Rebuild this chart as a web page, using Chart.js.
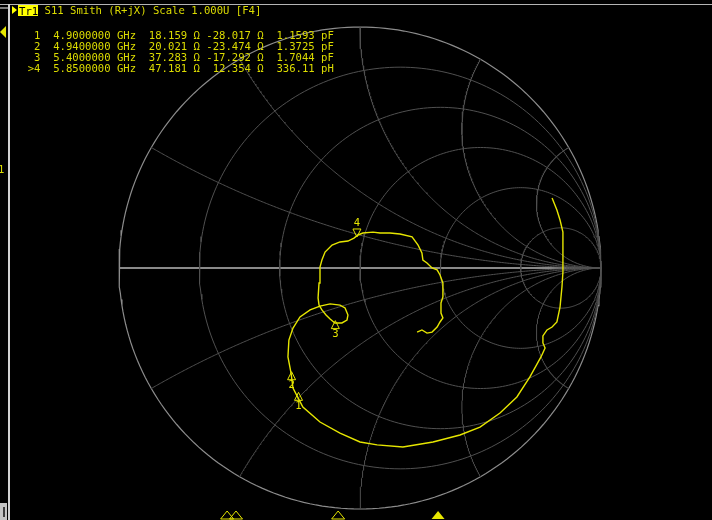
<!DOCTYPE html>
<html>
<head>
<meta charset="utf-8">
<script src="https://cdn.jsdelivr.net/npm/chart.js@4.4.1/dist/chart.umd.min.js"></script>
<style>
  html, body { margin: 0; padding: 0; background: #000; }
  #wrap { position: relative; width: 712px; height: 520px; overflow: hidden; background: #000; }
  #box { position: absolute; left: 0; top: 0; width: 712px; height: 520px; }
  .txt { position: absolute; font-family: "DejaVu Sans Mono", monospace; font-size: 10.6px;
         line-height: 10.8px; color: #dcdc00; white-space: pre; margin: 0; }
  #tr { position: absolute; left: 18px; top: 5px; width: 20px; height: 11px; background: #ffff00; }
  #tr span { position: absolute; left: 1px; top: 0; color: #000; }
  .deco { position: absolute; }
</style>
</head>
<body>
<div id="wrap">
  <div id="box"><canvas id="myChart"></canvas></div>

  <div class="deco" style="left:0;top:4px;width:712px;height:1px;background:#b4b4b4"></div>
  <div class="deco" style="left:0;top:7px;width:8px;height:2px;background:#7a7a7a"></div>
  <div class="deco" style="left:8px;top:4px;width:2px;height:516px;background:#d2d2d2"></div>
  <div class="deco" style="left:0;top:26px;width:0;height:0;border-top:6px solid transparent;border-bottom:6px solid transparent;border-right:6px solid #e6e600"></div>
  <div class="txt" style="left:-2px;top:164px">1</div>
  <div class="deco" style="left:0;top:503px;width:7px;height:17px;background:#c4c4c4"></div>
  <div class="deco" style="left:3px;top:507px;width:2px;height:10px;background:#3c3c3c"></div>

  <div class="deco" style="left:12px;top:6px;width:0;height:0;border-top:4px solid transparent;border-bottom:4px solid transparent;border-left:5px solid #ffff00"></div>
  <div id="tr"><span class="txt" style="top:0.5px">Tr1</span></div>
  <div class="txt" id="title" style="left:44.5px;top:4.8px"></div>
  <pre class="txt" id="table" style="left:27.7px;top:30.3px"></pre>
</div>
<script>
// trace S11, reflection coefficient, sweep start -> stop
const gammaRe = [0.797, 0.817, 0.830, 0.842, 0.842, 0.842, 0.842, 0.838, 0.830, 0.817,
  0.797, 0.776, 0.759, 0.759, 0.768, 0.751, 0.705, 0.651, 0.581, 0.498,
  0.415, 0.303, 0.178, 0.071, 0.000, -0.083, -0.166, -0.237, -0.257, -0.278,
  -0.286, -0.299, -0.295, -0.278, -0.249, -0.207, -0.166, -0.124, -0.083, -0.062,
  -0.050, -0.054, -0.075, -0.104, -0.124, -0.141, -0.158, -0.170, -0.174, -0.170,
  -0.166, -0.158, -0.145, -0.116, -0.083, -0.050, -0.025, -0.008, 0.012, 0.054,
  0.083, 0.124, 0.166, 0.216, 0.241, 0.257, 0.261, 0.278, 0.299, 0.320,
  0.332, 0.344, 0.344, 0.336, 0.336, 0.344, 0.332, 0.320, 0.299, 0.278,
  0.257, 0.237];
const gammaIm = [0.290, 0.241, 0.199, 0.149, 0.095, 0.033, -0.017, -0.079, -0.162, -0.224,
  -0.245, -0.257, -0.282, -0.311, -0.332, -0.369, -0.452, -0.535, -0.602, -0.660,
  -0.693, -0.722, -0.743, -0.734, -0.722, -0.685, -0.639, -0.577, -0.539, -0.498,
  -0.436, -0.369, -0.299, -0.249, -0.203, -0.174, -0.158, -0.149, -0.154, -0.166,
  -0.195, -0.216, -0.228, -0.228, -0.212, -0.195, -0.174, -0.154, -0.124, -0.062,
  0.004, 0.033, 0.066, 0.095, 0.108, 0.112, 0.124, 0.137, 0.145, 0.149,
  0.145, 0.145, 0.141, 0.129, 0.095, 0.062, 0.033, 0.021, 0.000, -0.008,
  -0.029, -0.062, -0.120, -0.145, -0.187, -0.207, -0.224, -0.245, -0.266, -0.270,
  -0.257, -0.266];

// markers
const markerNo = [1, 2, 3, 4];
const markerFreq = [4.9, 4.94, 5.4, 5.85];          // GHz
const markerR = [18.159, 20.021, 37.283, 47.181];   // ohm
const markerX = [-28.017, -23.474, -17.292, 12.354]; // ohm
const markerLC = [1.1593, 1.3725, 1.7044, 336.11];
const markerLCUnit = ['pF', 'pF', 'pF', 'pH'];
const activeMarker = 3;
const z0 = 50;

// smith grid
const gridR = [0.2, 0.5, 1, 2, 5];
const gridXAngles = [30, 60, 90, 120, 150]; // where the reactance arcs meet the rim, degrees

const titleText = 'S11 Smith (R+jX) Scale 1.000U [F4]';

const YEL = '#e6e600';
const CX = 360, CY = 268, RAD = 241, W = 712, H = 520;

function gammaOf(r, x) {
  // z normalised -> reflection coefficient
  const den = (r + 1) * (r + 1) + x * x;
  return { x: (r * r - 1 + x * x) / den, y: (2 * x) / den };
}

function rCircle(r) {
  const c = r / (1 + r), rad = 1 / (1 + r), pts = [];
  for (let i = 0; i <= 240; i++) {
    const a = 2 * Math.PI * i / 240;
    pts.push({ x: c + rad * Math.cos(a), y: rad * Math.sin(a) });
  }
  return pts;
}

function xArc(x) {
  const pts = [];
  for (let i = 0; i <= 300; i++) {
    const t = i / 300 * 0.9995;
    pts.push(gammaOf(t / (1 - t), x));
  }
  return pts;
}

function gridLine(pts, color, width) {
  return { data: pts, showLine: true, borderColor: color, borderWidth: width,
           pointRadius: 0, tension: 0, order: 1 };
}

const datasets = [];
datasets.push({
  label: 'S11', data: gammaRe.map((v, i) => ({ x: v, y: gammaIm[i] })),
  showLine: true, borderColor: YEL, borderWidth: 1.4, pointRadius: 0, tension: 0, order: 0
});
gridR.forEach(r => datasets.push(gridLine(rCircle(r), '#505050', 1)));
gridXAngles.forEach(a => {
  const x = Math.tan((180 - a) / 2 * Math.PI / 180);
  datasets.push(gridLine(xArc(x), '#505050', 1));
  datasets.push(gridLine(xArc(-x), '#505050', 1));
});
datasets.push(gridLine(rCircle(0), '#8c8c8c', 1.2));
datasets.push(gridLine([{ x: -1, y: 0 }, { x: 1, y: 0 }], '#8a8a8a', 2));

// text
document.getElementById('title').textContent = titleText;
document.getElementById('table').textContent = markerNo.map((n, i) => {
  const x = markerX[i];
  return (i === activeMarker ? '>' : ' ') + n + '  ' + markerFreq[i].toFixed(7) + ' GHz  ' +
    markerR[i].toFixed(3) + ' \u03A9 ' + (x < 0 ? '-' : ' ') + Math.abs(x).toFixed(3) + ' \u03A9  ' +
    markerLC[i].toPrecision(5) + ' ' + markerLCUnit[i];
}).join('\n');

const markerPlugin = {
  id: 'markers',
  afterDatasetsDraw(chart) {
    const { ctx, scales } = chart;
    ctx.save();
    ctx.strokeStyle = YEL;
    ctx.fillStyle = YEL;
    ctx.lineWidth = 1;
    ctx.font = '10.6px "DejaVu Sans Mono"';
    ctx.textAlign = 'center';
    ctx.textBaseline = 'middle';
    markerNo.forEach((n, i) => {
      const g = gammaOf(markerR[i] / z0, markerX[i] / z0);
      const px = scales.x.getPixelForValue(g.x);
      const py = scales.y.getPixelForValue(g.y);
      const s = i === activeMarker ? -1 : 1;
      ctx.beginPath();
      ctx.moveTo(px, py);
      ctx.lineTo(px - 4, py + 8 * s);
      ctx.lineTo(px + 4, py + 8 * s);
      ctx.closePath();
      ctx.stroke();
      ctx.fillText(String(n), px, py + 14 * s);

      // stimulus markers along the bottom edge
      const fx = scales.f.getPixelForValue(markerFreq[i]);
      ctx.beginPath();
      ctx.moveTo(fx, 511);
      ctx.lineTo(fx - 6.5, 519);
      ctx.lineTo(fx + 6.5, 519);
      ctx.closePath();
      if (i === activeMarker) ctx.fill(); else ctx.stroke();
    });
    ctx.restore();
  }
};

const config = {
  type: 'scatter',
  data: { datasets: datasets },
  options: {
    responsive: true,
    maintainAspectRatio: false,
    animation: false,
    events: [],
    layout: { padding: 0, autoPadding: false },
    plugins: { legend: { display: false }, tooltip: { enabled: false } },
    scales: {
      x: { type: 'linear', display: false, min: -CX / RAD, max: (W - CX) / RAD },
      y: { type: 'linear', display: false, min: -(H - CY) / RAD, max: CY / RAD },
      f: { type: 'linear', axis: 'x', display: false, min: 3.877, max: 7.084 }
    }
  },
  plugins: [markerPlugin]
};

const chart = new Chart(document.getElementById('myChart'), config);
</script>
</body>
</html>
